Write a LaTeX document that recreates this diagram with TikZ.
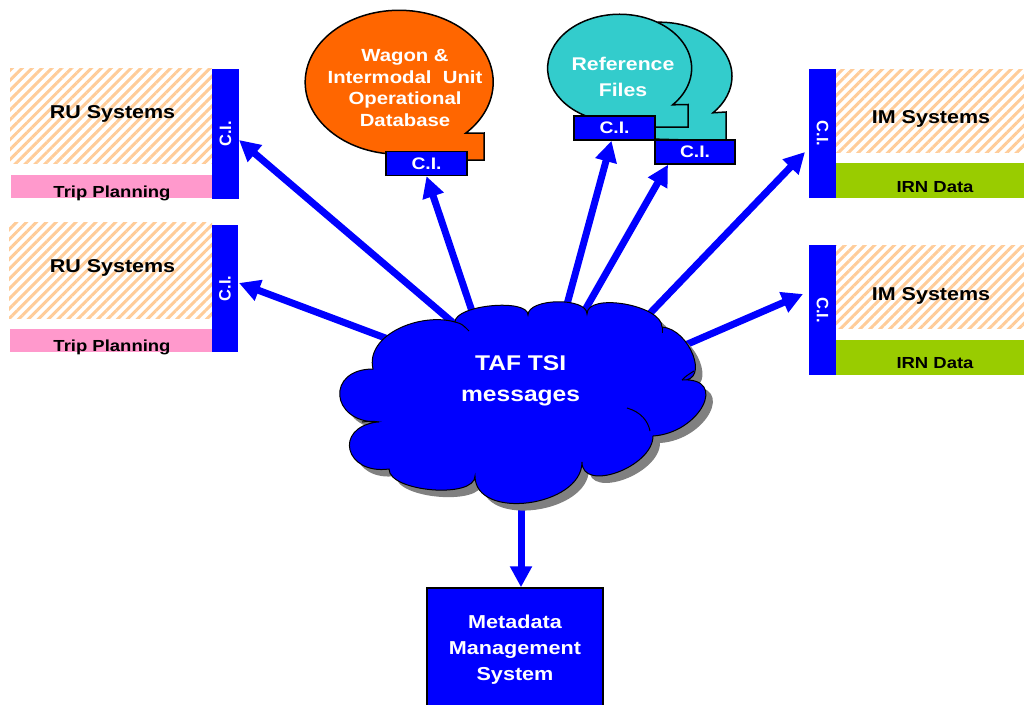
\documentclass[tikz,border=0pt]{standalone}
\usepackage{fontspec}
\setmainfont{Liberation Sans}[FakeStretch=1.155]
\newfontfamily\rotfont{Liberation Sans}
\usetikzlibrary{arrows.meta,patterns.meta}
\definecolor{peach}{RGB}{255,204,153}
\definecolor{pinkbar}{RGB}{255,153,204}
\definecolor{greenbar}{RGB}{153,204,0}
\definecolor{orangeb}{RGB}{255,102,0}
\definecolor{tealb}{RGB}{51,204,204}
\definecolor{shadowg}{RGB}{128,128,128}
\definecolor{pureblue}{RGB}{0,0,255}
\def\cloudpath{(373,369) .. controls (365,335) and (420,312) .. (455,322)
 .. controls (455,305) and (528,298) .. (528,315)
 .. controls (528,298) and (587,297) .. (587,314)
 .. controls (587,292) and (662,305) .. (662,327)
 .. controls (690,329) and (710,382) .. (682,380)
 .. controls (729,377) and (700,433) .. (653,436)
 .. controls (653,467) and (582,493) .. (582,462)
 .. controls (582,507) and (475,521) .. (475,476)
 .. controls (475,499) and (389,492) .. (389,469)
 .. controls (345,475) and (333,428) .. (377,422)
 .. controls (330,422) and (326,369) .. (373,369) -- cycle}
\begin{document}
\begin{tikzpicture}[x=1pt,y=-1pt,
  area/.style 2 args={minimum width=#1, minimum height=#2, inner sep=0, outer sep=0, draw=none},
  hatchbox/.style={pattern={Lines[angle=45,distance=7pt,line width=3pt]}, pattern color=peach},
  cibar/.style={fill=pureblue, text=white, font=\rotfont\fontsize{16.5}{19}\selectfont\bfseries},
  cibox/.style={draw=black, line width=1.5pt, fill=pureblue, text=white, inner sep=0,
    minimum width=81, minimum height=24, font=\fontsize{16.7}{19}\selectfont\bfseries},
  bigtxt/.style={font=\fontsize{18.6}{22}\selectfont\bfseries, inner sep=0, anchor=base},
  smalltxt/.style={font=\fontsize{16}{19}\selectfont\bfseries, inner sep=0, anchor=base},
  bubble/.style={draw=black, line width=1.5pt},
  flow/.style={draw=pureblue, line width=7pt, -{Triangle[length=21pt,width=21pt]}},
  crease/.style={draw=black, line width=1pt}
]
\useasboundingbox (0,0) rectangle (1024,704);

% ---------- left RU systems ----------
\node[area={202}{95}, hatchbox] (ru1) at (111,115.5) {};
\node[area={202}{23}, fill=pinkbar] (tp1) at (112,186.5) {};
\node[area={27}{130}, cibar] (ciL1) at (225.5,134) {\rotatebox{90}{C.I.}};
\node[bigtxt] (ru1t) at (112.5,118) {RU Systems};
\node[smalltxt] (tp1t) at (112,197) {Trip Planning};

\node[area={203}{96}, hatchbox] (ru2) at (110.5,270) {};
\node[area={202}{23}, fill=pinkbar] (tp2) at (111,340.5) {};
\node[area={26}{127}, cibar] (ciL2) at (225,288.5) {\rotatebox{90}{C.I.}};
\node[bigtxt] (ru2t) at (112.5,272) {RU Systems};
\node[smalltxt] (tp2t) at (112,351) {Trip Planning};

% ---------- right IM systems ----------
\node[area={188}{83}, hatchbox] (im1) at (930,110.5) {};
\node[area={188}{35}, fill=greenbar] (irn1) at (930,180.5) {};
\node[area={27}{129}, cibar] (ciR1) at (822.5,133.5) {\rotatebox{-90}{C.I.}};
\node[bigtxt] (im1t) at (931,123) {IM Systems};
\node[smalltxt] (irn1t) at (935,192) {IRN Data};

\node[area={188}{83}, hatchbox] (im2) at (930,286.5) {};
\node[area={188}{35}, fill=greenbar] (irn2) at (930,357.5) {};
\node[area={27}{130}, cibar] (ciR2) at (822.5,310) {\rotatebox{-90}{C.I.}};
\node[bigtxt] (im2t) at (931,300) {IM Systems};
\node[smalltxt] (irn2t) at (935,368) {IRN Data};

% ---------- orange database bubble ----------
\path[bubble, fill=orangeb] (391,154) arc[start angle=95, end angle=405, x radius=94, y radius=72]
  -- (484,133) -- (484,160) -- (450,160) -- cycle;
\node[cibox] (ciO) at (426.5,163.5) {C.I.};
\node[font=\fontsize{17.6}{21.5}\selectfont\bfseries, text=white, align=center, inner sep=0]
  (wagon) at (405,88) {Wagon \&\\Intermodal\ \ Unit\\Operational\\Database};

% ---------- reference files bubbles ----------
\path[bubble, fill=tealb] (624,123) arc[start angle=120, end angle=402.6, x radius=72, y radius=54]
  -- (726,112) -- (726,141) -- (650,139) -- cycle;
\node[cibox, minimum width=80] (ciB) at (695,152) {C.I.};
\path[bubble, fill=tealb] (595,119) arc[start angle=110, end angle=402.6, x radius=72, y radius=54]
  -- (688,104.5) -- (688,127) -- (640,127) -- cycle;
\node[cibox] (ciF) at (614.5,128) {C.I.};
\node[font=\fontsize{18.4}{26}\selectfont\bfseries, text=white, align=center, inner sep=0]
  (reffiles) at (623,77.3) {Reference\\Files};

% ---------- metadata box ----------
\node[draw=black, line width=1.5pt, fill=pureblue, text=white, minimum width=176, minimum height=124,
  inner sep=0, align=center, font=\fontsize{18.7}{26}\selectfont\bfseries] (meta) at (515,650)
  {Metadata\\Management\\System};

% ---------- arrows (start under the cloud) ----------
\coordinate (s1) at (471,338);
\coordinate (s2) at (420,351);
\coordinate (s3) at (480,335);
\coordinate (s4) at (560,330);
\coordinate (s5) at (573,331);
\coordinate (s6) at (632,332);
\coordinate (s7) at (660,356);
\coordinate (s8) at (521,470);
\draw[flow] (s1) -- ([yshift=-6pt]ciL1.east);
\draw[flow] (s2) -- ([xshift=1pt,yshift=5.5pt]ciL2.east);
\draw[flow] (s3) -- (ciO.south);
\draw[flow] (s4) -- ([xshift=-3pt]ciF.south);
\draw[flow] (s5) -- ([xshift=-27pt]ciB.south);
\draw[flow] (s6) -- ([xshift=-4pt,yshift=-18.5pt]ciR1.west);
\draw[flow] (s7) -- ([xshift=-6pt,yshift=16pt]ciR2.west);
\draw[flow] (s8) -- ([xshift=6pt]meta.north);

% ---------- cloud ----------
\fill[shadowg, shift={(7,7)}] \cloudpath;
\filldraw[fill=pureblue, draw=black, line width=1pt] \cloudpath;
\draw[crease] (455,322) .. controls (462,324) .. (469,331);
\draw[crease] (627,408) .. controls (641,412) and (648,421) .. (650,431);
\draw[crease] (379,422) .. controls (372,421) .. (362,422);
\draw[crease] (682,380) .. controls (686,376) .. (694,371);
\draw[crease] (662,327) -- (662,333);
\node[font=\fontsize{21.3}{31}\selectfont\bfseries, text=white, align=center, inner sep=0]
  (taf) at (520.6,380.8) {TAF TSI\\messages};
\end{tikzpicture}
\end{document}
